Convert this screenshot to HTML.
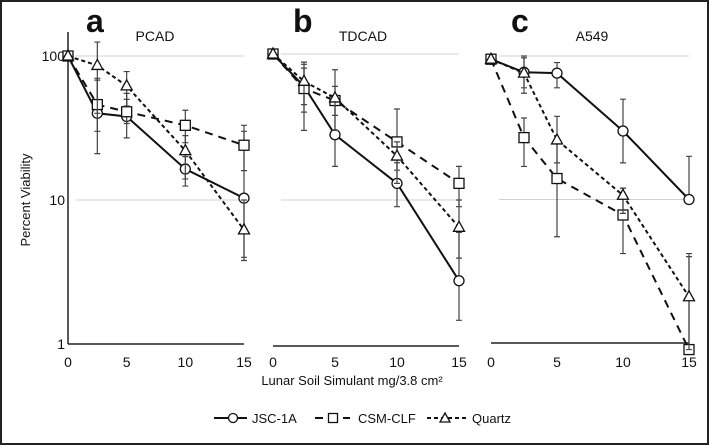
<!DOCTYPE html>
<html><head><meta charset="utf-8">
<style>
body{margin:0;background:#fff;}
svg{display:block;font-family:"Liberation Sans",sans-serif;}
</style></head>
<body>
<svg id="chart" width="709" height="446" viewBox="0 0 709 446">
<rect x="1" y="1" width="707" height="443" fill="#fff" stroke="#222" stroke-width="2"/>
<text x="30" y="200" font-size="13" text-anchor="middle" transform="rotate(-90 30 200)" fill="#111">Percent Viability</text>
<text x="352" y="385" font-size="13" text-anchor="middle" fill="#111">Lunar Soil Simulant mg/3.8 cm²</text>
<g id="legend">
<g><line x1="214" y1="418" x2="247" y2="418" stroke="#111" stroke-width="2"/><circle cx="233" cy="418" r="4.5" fill="#fff" stroke="#111" stroke-width="1.3"/><text x="252" y="423" font-size="13" fill="#111">JSC-1A</text></g>
<g><line x1="315" y1="418" x2="350" y2="418" stroke="#111" stroke-width="2" stroke-dasharray="8,6"/><rect x="328.5" y="413.5" width="9" height="9" fill="#fff" stroke="#111" stroke-width="1.3"/><text x="358" y="423" font-size="13" fill="#111">CSM-CLF</text></g>
<g><line x1="427" y1="418" x2="468" y2="418" stroke="#111" stroke-width="2" stroke-dasharray="4,3"/><path d="M445,413 L450,422 L440,422 Z" fill="#fff" stroke="#111" stroke-width="1.3"/><text x="472" y="423" font-size="13" fill="#111">Quartz</text></g>
</g>
</svg>
<script>
const xVals = [0, 2.5, 5, 10, 15];
const xTicks = [0, 5, 10, 15];
const panelLetters = ["a", "b", "c"];
const panelTitles = ["PCAD", "TDCAD", "A549"];
const seriesNames = ["JSC-1A", "CSM-CLF", "Quartz"];
const pcadJsc = [100, 40, 38, 16.4, 10.3];
const pcadCsm = [100, 46, 41, 33, 24];
const pcadQuartz = [100, 86, 62, 22, 6.2];
const tdcadJsc = [100, 60, 28, 13, 2.8];
const tdcadCsm = [100, 58, 48, 25, 13];
const tdcadQuartz = [100, 65, 50, 20, 6.5];
const a549Jsc = [95, 77, 76, 30, 10];
const a549Csm = [95, 27, 14, 7.8, 0.9];
const a549Quartz = [95, 76, 26, 10.7, 2.1];
const pcadJscErr = [[100,100],[70,21],[50,27],[20,12.5],[30,4]];
const pcadCsmErr = [[100,100],[68,30],[55,34],[42,25],[33,16]];
const pcadQuartzErr = [[100,100],[125,40],[78,45],[28,14],[10,3.8]];
const tdcadJscErr = [[100,100],[85,30],[48,17],[18,9],[6,1.5]];
const tdcadCsmErr = [[100,100],[80,40],[78,30],[42,16],[17,9]];
const tdcadQuartzErr = [[100,100],[88,45],[60,38],[25,13],[10,4]];
const a549JscErr = [[95,95],[100,55],[90,60],[50,18],[20,10]];
const a549CsmErr = [[95,95],[37,17],[25,5.5],[12,4.2],[4.2,0.9]];
const a549QuartzErr = [[95,95],[97,60],[38,18],[12,8],[4,0.9]];
const panelData = [[pcadJsc,pcadCsm,pcadQuartz],[tdcadJsc,tdcadCsm,tdcadQuartz],[a549Jsc,a549Csm,a549Quartz]];
const panelErr = [[pcadJscErr,pcadCsmErr,pcadQuartzErr],[tdcadJscErr,tdcadCsmErr,tdcadQuartzErr],[a549JscErr,a549CsmErr,a549QuartzErr]];

const geo = [{x0:68,x1:244,y100:56,y1:344},{x0:273,x1:459,y100:54,y1:346},{x0:491,x1:689,y100:56,y1:343}];
const dashes = ["", "8,6", "4,3"];
const NS = "http://www.w3.org/2000/svg";
const svg = document.getElementById("chart");
function mk(tag, attrs, parent){const e=document.createElementNS(NS,tag);for(const k in attrs)e.setAttribute(k,attrs[k]);parent.appendChild(e);return e;}

geo.forEach((g, p) => {
  const xs = v => g.x0 + (v/15)*(g.x1-g.x0);
  const ys = v => g.y100 + (2-Math.log10(v))*(g.y1-g.y100)/2;
  const grp = mk("g", {}, svg);
  
  
  [100, 10].forEach(v => {
    const l = mk("line", {x1:g.x0+8, x2:g.x1, y1:ys(v), y2:ys(v), stroke:"#d0d0d0", "stroke-width":1}, grp);
    
    
  });
  const xa = mk("line", {x1:g.x0, x2:g.x1, y1:g.y1, y2:g.y1, stroke:"#222", "stroke-width":1.5}, grp);
  
  
  if (p === 0) {
    const ya = mk("line", {x1:g.x0, x2:g.x0, y1:32, y2:g.y1, stroke:"#222", "stroke-width":1.5}, grp);
    
    
    [100, 10, 1].forEach(v => {
      const t = mk("text", {x:g.x0-3, y:ys(v)+5, "font-size":14, "text-anchor":"end", fill:"#111"}, grp);
      t.textContent = v;
      
      
    });
  }
  xTicks.forEach(v => {
    const t = mk("text", {x:xs(v), y:367, "font-size":14, "text-anchor":"middle", fill:"#111"}, grp);
    t.textContent = v;
    
    
  });
  const lt = mk("text", {x:[86,293,511][p], y:32, "font-size":32, "font-weight":"bold", "text-anchor":"start", fill:"#111"}, grp);
  lt.textContent = panelLetters[p];
  
  
  const tt = mk("text", {x:[155,363,592][p], y:41, "font-size":14, "text-anchor":"middle", fill:"#111"}, grp);
  tt.textContent = panelTitles[p];
  
  

  panelData[p].forEach((vals, s) => {
    const sg = mk("g", {}, grp);
    
    
    panelErr[p][s].forEach((e, i) => {
      if (e[0] === e[1]) return;
      const x = xs(xVals[i]);
      const eb = mk("path", {d:`M${x},${ys(e[0])}V${ys(e[1])}M${x-3},${ys(e[0])}h6M${x-3},${ys(e[1])}h6`, stroke:"#444", "stroke-width":1.2, fill:"none"}, sg);
      
      
    });
    const pts = vals.map((v,i) => xs(xVals[i]) + "," + ys(v)).join(" ");
    const pl = mk("polyline", {points:pts, fill:"none", stroke:"#111", "stroke-width":2, "stroke-dasharray":dashes[s]}, sg);
    
    
    vals.forEach((v, i) => {
      const x = xs(xVals[i]), y = ys(v);
      let m;
      if (s === 0) m = mk("circle", {cx:x, cy:y, r:5, fill:"#fff", stroke:"#111", "stroke-width":1.3}, sg);
      else if (s === 1) m = mk("rect", {x:x-5, y:y-5, width:10, height:10, fill:"#fff", stroke:"#111", "stroke-width":1.3}, sg);
      else m = mk("path", {d:`M${x},${y-6}L${x+5.5},${y+4}L${x-5.5},${y+4}Z`, fill:"#fff", stroke:"#111", "stroke-width":1.3}, sg);
      
      
    });
  });
});
</script>
</body></html>
